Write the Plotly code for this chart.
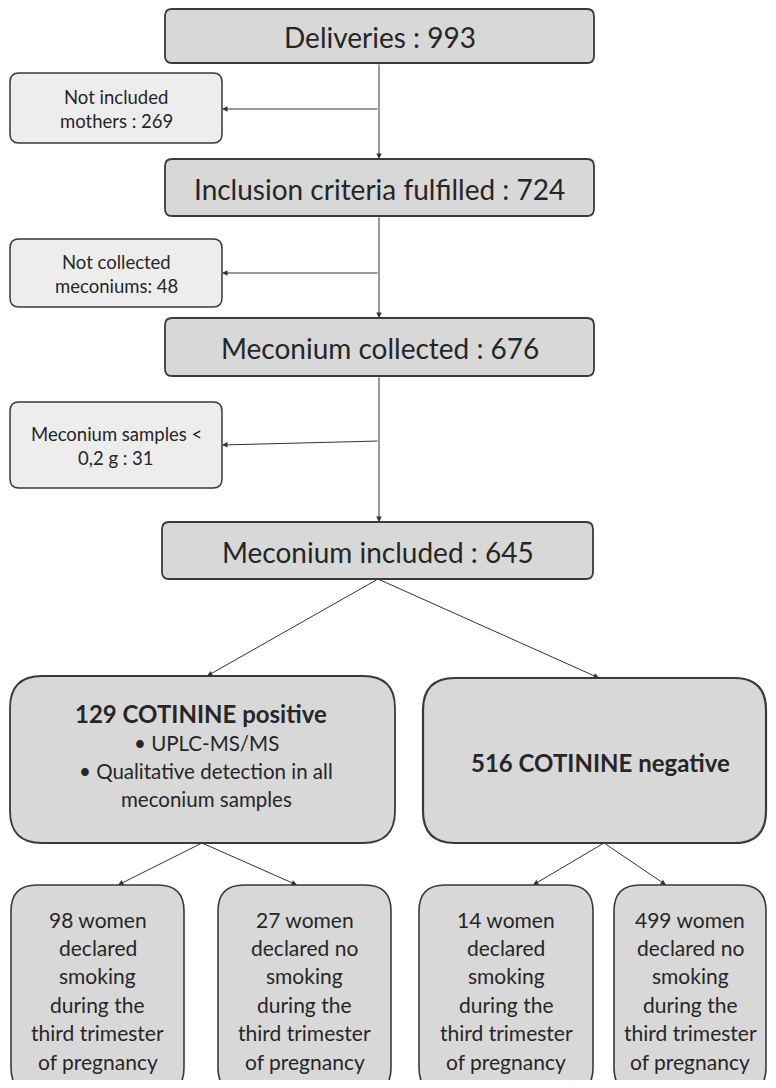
import plotly.graph_objects as go

# ---------------- data (labels and counts) ----------------
main_stages = ["Deliveries", "Inclusion criteria fulfilled", "Meconium collected", "Meconium included"]
main_counts = [993, 724, 676, 645]

side_lines = [["Not included", "mothers : 269"],
              ["Not collected", "meconiums: 48"],
              ["Meconium samples <", "0,2 g : 31"]]
side_counts = [269, 48, 31]

cotinine_counts = [129, 516]
cotinine_labels = ["COTININE positive", "COTININE negative"]
positive_bullets = ["• UPLC-MS/MS", "• Qualitative detection in all", "meconium samples"]

women_counts = [98, 27, 14, 499]
women_lines = [["women", "declared", "smoking", "during the", "third trimester", "of pregnancy"],
               ["women", "declared no", "smoking", "during the", "third trimester", "of pregnancy"],
               ["women", "declared", "smoking", "during the", "third trimester", "of pregnancy"],
               ["women", "declared no", "smoking", "during the", "third trimester", "of pregnancy"]]

# ---------------- layout geometry (pixels, y down) ----------------
W, H = 776, 1088
PAD = 8  # page body margin compensation
FONT = "Lato, 'Open Sans', sans-serif"
TXT = "#262626"
DARK_FILL = "#d8d8d8"
LIGHT_FILL = "#ededed"
EDGE = "#3a3a3a"

main_boxes = [(165, 9, 594, 63), (165, 159, 594, 216), (165, 318, 594, 376), (162, 522, 593, 579)]
side_boxes = [(10, 73, 222, 143), (10, 239, 222, 307), (10, 402, 222, 488)]
cot_boxes = [(10, 676, 395, 843), (423, 678, 766, 843)]
women_boxes = [(11, 885, 184, 1094), (218, 885, 391, 1094), (419, 885, 593, 1094), (614, 885, 766, 1094)]

arrows = [((379, 63), (379, 159)), ((379, 109), (222, 109)),
          ((379, 216), (379, 318)), ((379, 273), (222, 273)),
          ((379, 376), (379, 522)), ((379, 441), (222, 445)),
          ((378, 579), (207, 676)), ((378, 579), (599, 678)),
          ((202, 843), (118, 885)), ((202, 843), (297, 885)),
          ((604, 843), (533, 885)), ((604, 843), (666, 885))]


def rrect(x0, y0, x1, y1, r):
    return (f"M {x0+r},{y0} L {x1-r},{y0} Q {x1},{y0} {x1},{y0+r} "
            f"L {x1},{y1-r} Q {x1},{y1} {x1-r},{y1} L {x0+r},{y1} "
            f"Q {x0},{y1} {x0},{y1-r} L {x0},{y0+r} Q {x0},{y0} {x0+r},{y0} Z")


fig = go.Figure()
shapes = []
annotations = []


def add_box(b, r, fill, lw=1.6):
    shapes.append(dict(type="path", path=rrect(*b, r), xref="x", yref="y",
                       fillcolor=fill, line=dict(color=EDGE, width=lw), layer="below"))


def add_text(x, y, t, size, bold=False):
    annotations.append(dict(x=x, y=y, xref="x", yref="y", text=f"<b>{t}</b>" if bold else t,
                            showarrow=False, xanchor="center", yanchor="middle",
                            font=dict(family=FONT, size=size, color=TXT)))


# main boxes
for b, name, n in zip(main_boxes, main_stages, main_counts):
    add_box(b, 7, DARK_FILL, 1.8)
    add_text((b[0] + b[2]) / 2, (b[1] + b[3]) / 2 + 1, f"{name} : {n}", 28)

# side boxes
for b, lines in zip(side_boxes, side_lines):
    add_box(b, 9, LIGHT_FILL, 1.5)
    cy = (b[1] + b[3]) / 2 + 1
    for i, t in enumerate(lines):
        add_text((b[0] + b[2]) / 2, cy + (i - (len(lines) - 1) / 2) * 24, t, 18.5)

# cotinine boxes
pos, neg = cot_boxes
add_box(pos, 32, DARK_FILL, 1.8)
add_box(neg, 32, DARK_FILL, 2.2)
add_text(201, 713, f"{cotinine_counts[0]} {cotinine_labels[0]}", 24, bold=True)
for i, t in enumerate(positive_bullets):
    add_text(206, 743 + i * 28, t, 20.5)
add_text(600, 762, f"{cotinine_counts[1]} {cotinine_labels[1]}", 24, bold=True)

# women boxes
for b, n, lines in zip(women_boxes, women_counts, women_lines):
    add_box(b, 26, DARK_FILL, 1.6)
    cx = (b[0] + b[2]) / 2
    for i, t in enumerate(lines):
        txt = f"{n} {t}" if i == 0 else t
        add_text(cx, 919 + i * 28.4, txt, 21)

# arrows
for (tx, ty), (hx, hy) in arrows:
    annotations.append(dict(x=hx, y=hy, ax=tx, ay=ty, xref="x", yref="y", axref="x", ayref="y",
                            text="", showarrow=True, arrowhead=2, arrowsize=1.1, arrowwidth=1,
                            arrowcolor="#333333", standoff=0))

fig.update_layout(width=W - 2 * PAD, height=H - 2 * PAD, margin=dict(l=0, r=0, t=0, b=0),
                  paper_bgcolor="white", plot_bgcolor="white",
                  xaxis=dict(range=[PAD, W - PAD], visible=False, fixedrange=True),
                  yaxis=dict(range=[H - PAD, PAD], visible=False, fixedrange=True),
                  shapes=shapes, annotations=annotations, showlegend=False)

fig.write_html("out.html")
